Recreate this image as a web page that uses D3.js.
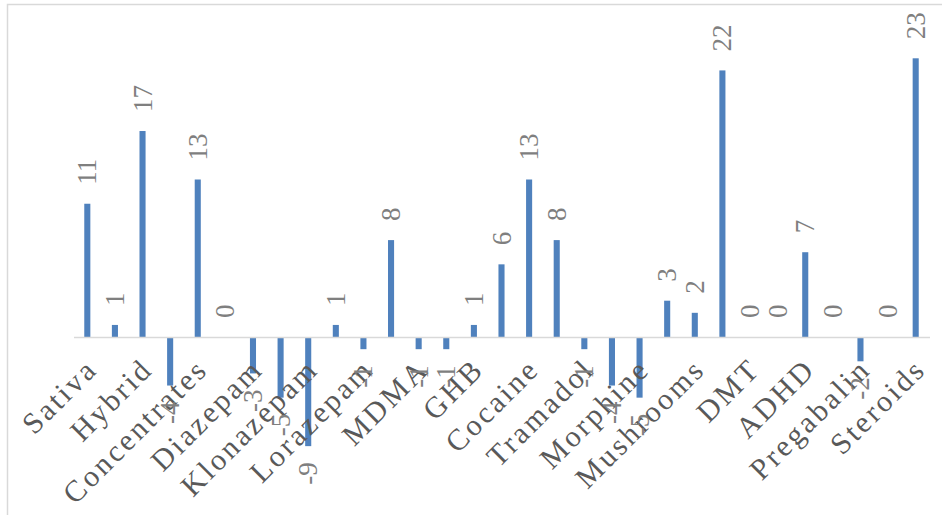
<!DOCTYPE html>
<html>
<head>
<meta charset="utf-8">
<script src="https://cdn.jsdelivr.net/npm/d3@7"></script>
<style>
  html, body { margin: 0; padding: 0; background: #fff; }
  svg { display: block; }
</style>
</head>
<body>
<svg id="chart" width="942" height="515"></svg>
<script>
// Category names (only every other category label is shown on the chart; hidden ones unreadable)
const categories = [
  "Sativa", null, "Hybrid", null, "Concentrates", null, "Diazepam", null,
  "Klonazepam", null, "Lorazepam", null, "MDMA", null, "GHB", null,
  "Cocaine", null, "Tramadol", null, "Morphine", null, "Mushrooms", null,
  "DMT", null, "ADHD", null, "Pregabalin", null, "Steroids"
];
const values = [
  11, 1, 17, -4, 13, 0, -3, -5, -9, 1, -1, 8, -1, -1, 1, 6,
  13, 8, -1, -4, -5, 3, 2, 22, 0, 0, 7, 0, -2, 0, 23
];

const svg = d3.select("#chart");

// chart border
svg.append("rect")
  .attr("x", 7.5).attr("y", 4.5)
  .attr("width", 960).attr("height", 530)
  .attr("fill", "#fff").attr("stroke", "#d9d9d9").attr("stroke-width", 1.5);

const idx = values.map((_, i) => i);
const x = d3.scaleBand().domain(idx).range([73.5, 929.5])
  .paddingInner(0.78).paddingOuter(0.39);
const y = d3.scaleLinear().domain([-12, 23]).range([482.5, 58.3]);

const barColor = "#4f81bd";

// bars
svg.append("g").selectAll("rect").data(values).join("rect")
  .attr("x", (d, i) => x(i))
  .attr("width", x.bandwidth())
  .attr("y", d => y(Math.max(0, d)))
  .attr("height", d => Math.abs(y(d) - y(0)))
  .attr("fill", barColor);

// category axis at zero line
const cx = i => x(i) + x.bandwidth() / 2;
const axis = d3.axisBottom(x)
  .tickSize(0).tickSizeOuter(0)
  .tickValues(idx.filter(i => categories[i] !== null))
  .tickFormat(i => categories[i]);
const gx = svg.append("g").attr("transform", `translate(0,${y(0)})`).call(axis);
gx.select(".domain").attr("stroke", "#d9d9d9").attr("stroke-width", 1.5);
gx.selectAll(".tick text")
  .attr("font-family", "'Liberation Serif', 'Times New Roman', serif")
  .attr("font-size", 30)
  .attr("letter-spacing", "2.8px")
  .attr("fill", "#595959")
  .attr("text-anchor", "end")
  .attr("x", 0).attr("y", 0).attr("dy", "0.7em")
  .attr("transform", "translate(-3,19) rotate(-45)");

// data labels
svg.append("g").selectAll("text").data(values).join("text")
  .attr("font-family", "'Liberation Serif', 'Times New Roman', serif")
  .attr("font-size", 27)
  .attr("fill", "#7f7f7f")
  .attr("dominant-baseline", "central")
  .attr("text-anchor", d => d < 0 ? "end" : "start")
  .attr("transform", (d, i) => {
    const yy = d < 0 ? y(d) + 16 : y(d) - 19;
    return `translate(${cx(i)},${yy}) rotate(-90)`;
  })
  .text(d => d);
</script>
</body>
</html>
